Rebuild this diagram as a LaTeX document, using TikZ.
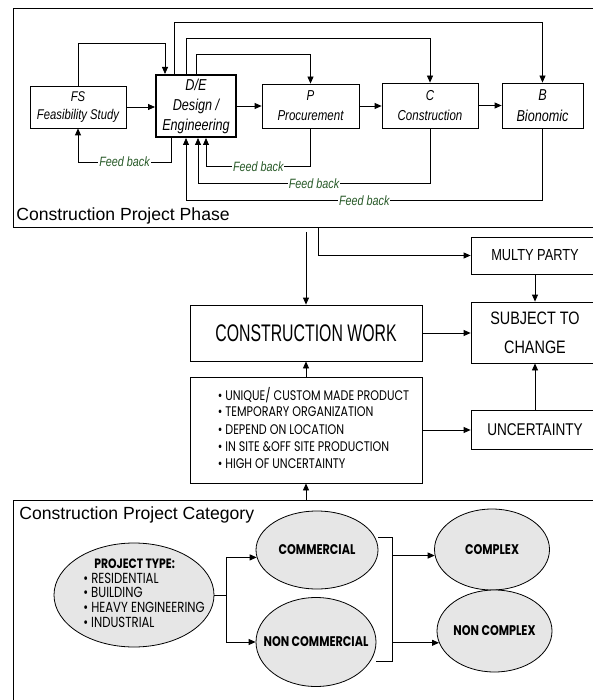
\documentclass[tikz,border=0pt]{standalone}
\usepackage{fontspec}
\setmainfont{Liberation Sans}
\newfontfamily\narrowfont[FakeStretch=0.8]{Liberation Sans}
\newfontfamily\cwfont[FakeStretch=0.66]{Liberation Sans}
\newfontfamily\gothicfont[FakeStretch=0.8]{Poppins}
\usetikzlibrary{arrows.meta, shapes.geometric, calc}
\definecolor{ovalgray}{RGB}{230,230,230}
\definecolor{fbgreen}{RGB}{40,90,40}
\newcommand{\titlefont}{\fontsize{17.6}{20}\selectfont}
\newcommand{\phasefont}{\narrowfont\itshape\fontsize{14.4}{20}\selectfont}
\tikzset{arr/.style={-{Triangle[length=7pt,width=6pt]}},
         box/.style={draw, rectangle, align=center, inner sep=2pt},
         frame/.style={draw, rectangle},
         oval/.style={draw, ellipse, fill=ovalgray, inner sep=-30pt},
         fb/.style={fill=white, inner sep=1pt, text=fbgreen,
                    font=\narrowfont\itshape\fontsize{13.5}{14}\selectfont}}

\begin{document}
\begin{tikzpicture}[x=1pt, y=-1pt, line width=0.8pt]
  \useasboundingbox (0,0) rectangle (592,700);

  % project phase
  \node[frame, minimum width=582, minimum height=219] (phase) at (304,117.5) {};
  \node[anchor=west, inner sep=0pt, font=\titlefont] (phasettl) at (16,216) {Construction Project Phase};
  \node[box, minimum width=96, minimum height=42, font=\narrowfont\itshape\fontsize{14.1}{18}\selectfont] (fs) at (78,107) {FS\\Feasibility Study};
  \node[box, line width=2pt, minimum width=80, minimum height=62, font=\narrowfont\itshape\fontsize{15.8}{20}\selectfont] (de) at (196,106) {D/E\\Design /\\Engineering};
  \node[box, minimum width=97, minimum height=44, font=\phasefont] (p) at (310.5,106) {P\\Procurement};
  \node[box, minimum width=96, minimum height=45, font=\phasefont] (c) at (430,105.5) {C\\Construction};
  \node[box, minimum width=81, minimum height=45, font=\narrowfont\itshape\fontsize{15.8}{21}\selectfont] (b) at (542.5,105.5) {B\\Bionomic};

  \draw[arr] (fs.east) -- (fs.east -| de.west);
  \draw[arr] (de.east) -- (de.east -| p.west);
  \draw[arr] (p.east) -- (p.east -| c.west);
  \draw[arr] (c.east) -- (c.east -| b.west);

  % forward lines
  \draw[arr] (fs.north) -- ++(0,-42) -| ([xshift=-31pt]de.north);
  \draw[arr] ([xshift=-22pt]de.north) -- ++(0,-52) -| (b.north);
  \draw[arr] ([xshift=-10pt]de.north) -- ++(0,-36) -| (c.north);
  \draw[arr] (de.north) -- ++(0,-20) -| (p.north);

  % feed back lines
  \draw[arr] ([xshift=-25pt]de.south) -- ++(0,24) -| node[fb, pos=0.25] {Feed back} (fs.south);
  \draw[arr] (p.south) -- ++(0,38) -| node[fb, pos=0.25] {Feed back} ([xshift=10pt]de.south);
  \draw[arr] (c.south) -- ++(0,55) -| node[fb, pos=0.25] {Feed back} ([xshift=2pt]de.south);
  \draw[arr] (b.south) -- ++(0,72) -| node[fb, pos=0.25] {Feed back} ([xshift=-10pt]de.south);

  % construction work
  \coordinate (cwin) at (306,232);
  \coordinate (mpin) at (318,227.5);
  \node[box, minimum width=232, minimum height=56, font=\cwfont\fontsize{24}{24}\selectfont] (cw) at (306,333) {CONSTRUCTION WORK};
  \node[box, minimum width=232, minimum height=106, font=\gothicfont\fontsize{13.9}{17}\selectfont] (bul) at (306,430)
    {\hspace*{15pt}\begin{tabular}{@{}l@{}}
      \textbullet\ UNIQUE/ CUSTOM MADE PRODUCT\\
      \textbullet\ TEMPORARY ORGANIZATION\\
      \textbullet\ DEPEND ON LOCATION\\
      \textbullet\ IN SITE \&OFF SITE PRODUCTION\\
      \textbullet\ HIGH OF UNCERTAINTY
    \end{tabular}};
  \node[box, minimum width=128, minimum height=37, font=\narrowfont\fontsize{16}{16}\selectfont] (mp) at (535,255.5) {MULTY PARTY};
  \node[box, minimum width=128, minimum height=61, font=\narrowfont\fontsize{18}{29}\selectfont] (subj) at (535,332.5) {SUBJECT TO\\CHANGE};
  \node[box, minimum width=128, minimum height=39, font=\narrowfont\fontsize{17}{17}\selectfont] (unc) at (535,429.5) {UNCERTAINTY};

  \draw[arr] (cwin) -- (cw);
  \draw[arr] (mpin) |- (mp);
  \draw[arr] (mp) -- (subj);
  \draw[arr] (cw.east) -- (cw.east -| subj.west);
  \draw[arr] (bul) -- (cw);
  \draw[arr] (bul.east) -- (bul.east -| unc.west);
  \draw[arr] (unc) -- (subj);

  % project category
  \node[frame, minimum width=586, minimum height=206] (cat) at (306,603) {};
  \node[anchor=west, inner sep=0pt, font=\titlefont] (catttl) at (19,515) {Construction Project Category};
  \draw[arr] (cat.north) -- (bul);

  \node[oval, minimum width=160, minimum height=104, font=\gothicfont\fontsize{14.6}{14.75}\selectfont] (ptype) at (134,595)
    {\hspace*{20pt}\begin{tabular}{@{}l@{}}
      \hspace*{11pt}{\fontsize{13.5}{14.75}\selectfont\textbf{PROJECT TYPE:}}\\
      \textbullet\ RESIDENTIAL\\
      \textbullet\ BUILDING\\
      \textbullet\ HEAVY ENGINEERING\\
      \textbullet\ INDUSTRIAL
    \end{tabular}};
  \node[oval, minimum width=122, minimum height=78, font=\gothicfont\bfseries\fontsize{14}{14}\selectfont] (comm) at (317,550) {COMMERCIAL};
  \node[oval, minimum width=120, minimum height=89, font=\gothicfont\bfseries\fontsize{14}{14}\selectfont] (ncomm) at (316,642) {NON COMMERCIAL};
  \node[oval, minimum width=115, minimum height=81, font=\gothicfont\bfseries\fontsize{14}{14}\selectfont] (cx) at (492,549.5) {COMPLEX};
  \node[oval, minimum width=115, minimum height=82, font=\gothicfont\bfseries\fontsize{14}{14}\selectfont] (ncx) at (494.5,631) {NON COMPLEX};

  \draw[arr] (ptype.east) -- ++(12,0) |- (comm.187);
  \draw[arr] (ptype.east) -- ++(12,0) |- (ncomm.west);
  \draw ([yshift=13pt]comm.east) -- ++(14,0) coordinate (spine) |- ([yshift=-19pt]ncomm.east);
  \draw[arr] (spine |- cx.186) -- (cx.186);
  \draw[arr] (spine |- ncx.192) -- (ncx.192);
\end{tikzpicture}
\end{document}
